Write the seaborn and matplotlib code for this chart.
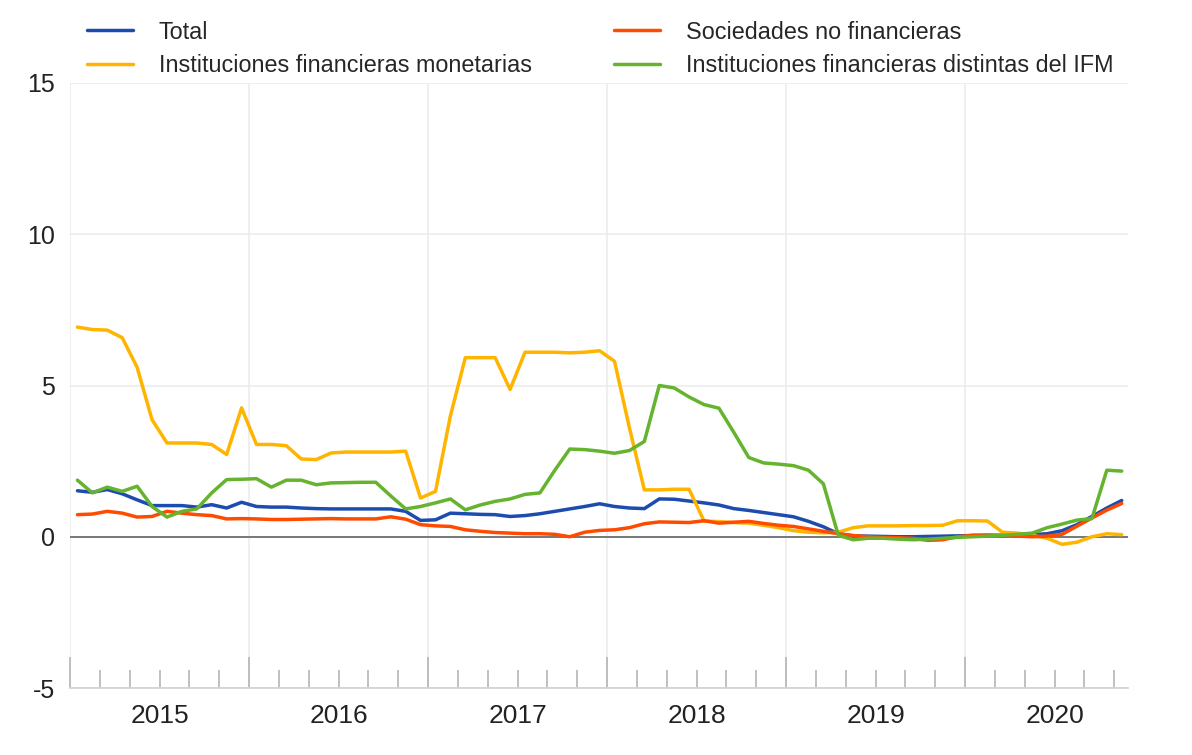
import numpy as np
import pandas as pd
import matplotlib
matplotlib.use("Agg")
import matplotlib.pyplot as plt
import seaborn as sns

# monthly data, Jan 2015 - Nov 2020 (percentages)
series_names = [
    "Total",
    "Instituciones financieras monetarias",
    "Sociedades no financieras",
    "Instituciones financieras distintas del IFM",
]
colors = ["#1d4caf", "#ffb400", "#ff4b00", "#65b32e"]

total = [
    1.52, 1.47, 1.56, 1.42, 1.22, 1.03, 1.03, 1.03, 0.98, 1.06, 0.95, 1.14,
    1.00, 0.98, 0.98, 0.95, 0.93, 0.92, 0.92, 0.92, 0.92, 0.92, 0.84, 0.54,
    0.56, 0.78, 0.76, 0.74, 0.73, 0.67, 0.70, 0.76, 0.84, 0.92, 1.00, 1.09,
    1.00, 0.95, 0.93, 1.25, 1.24, 1.18, 1.12, 1.05, 0.93, 0.87, 0.80, 0.73,
    0.66, 0.51, 0.33, 0.10, 0.03, 0.02, 0.01, 0.00, 0.00, 0.01, 0.02, 0.03,
    0.04, 0.05, 0.05, 0.06, 0.07, 0.10, 0.20, 0.40, 0.67, 0.95, 1.20,
]
ifm = [
    6.93, 6.85, 6.83, 6.58, 5.60, 3.87, 3.10, 3.10, 3.10, 3.05, 2.72, 4.26,
    3.05, 3.05, 3.01, 2.57, 2.55, 2.77, 2.80, 2.80, 2.80, 2.80, 2.83, 1.28,
    1.50, 4.00, 5.92, 5.92, 5.92, 4.87, 6.10, 6.10, 6.10, 6.08, 6.10, 6.15,
    5.80, 3.60, 1.55, 1.55, 1.57, 1.57, 0.52, 0.50, 0.47, 0.45, 0.38, 0.30,
    0.20, 0.15, 0.13, 0.15, 0.30, 0.36, 0.36, 0.36, 0.37, 0.37, 0.38, 0.53,
    0.53, 0.52, 0.15, 0.12, 0.05, -0.05, -0.25, -0.18, 0.00, 0.10, 0.07,
]
snf = [
    0.73, 0.75, 0.84, 0.78, 0.65, 0.67, 0.84, 0.78, 0.73, 0.70, 0.59, 0.60,
    0.59, 0.57, 0.57, 0.58, 0.59, 0.60, 0.59, 0.59, 0.59, 0.66, 0.58, 0.40,
    0.36, 0.34, 0.23, 0.18, 0.14, 0.12, 0.10, 0.10, 0.08, 0.00, 0.15, 0.21,
    0.23, 0.30, 0.43, 0.49, 0.48, 0.47, 0.53, 0.45, 0.48, 0.51, 0.44, 0.38,
    0.34, 0.26, 0.18, 0.10, 0.04, 0.00, -0.02, -0.03, -0.05, -0.12, -0.10, 0.00,
    0.05, 0.05, 0.03, 0.02, 0.00, 0.02, 0.08, 0.35, 0.62, 0.88, 1.10,
]
ifnm = [
    1.87, 1.45, 1.64, 1.50, 1.67, 1.00, 0.65, 0.84, 0.92, 1.45, 1.89, 1.90,
    1.92, 1.64, 1.87, 1.87, 1.72, 1.78, 1.79, 1.80, 1.80, 1.35, 0.92, 1.00,
    1.12, 1.25, 0.89, 1.05, 1.17, 1.25, 1.40, 1.45, 2.20, 2.90, 2.88, 2.83,
    2.76, 2.85, 3.15, 5.00, 4.92, 4.62, 4.37, 4.25, 3.45, 2.62, 2.44, 2.40,
    2.35, 2.20, 1.75, 0.05, -0.10, -0.05, -0.05, -0.08, -0.10, -0.08, -0.05, -0.02,
    0.00, 0.02, 0.05, 0.08, 0.12, 0.30, 0.42, 0.55, 0.60, 2.20, 2.17,
]
years = [2015, 2016, 2017, 2018, 2019, 2020]
y_ticks = [-5, 0, 5, 10, 15]

# month midpoints as fractional years
n = len(total)
fecha = 2015 + (np.arange(n) + 0.5) / 12

df = pd.DataFrame({"fecha": fecha,
                   series_names[0]: total, series_names[1]: ifm,
                   series_names[2]: snf, series_names[3]: ifnm})
long_df = df.melt(id_vars="fecha", var_name="serie", value_name="valor")

sns.set_style("white")
plt.rcParams["font.family"] = ["Liberation Sans", "DejaVu Sans"]
plt.rcParams["axes.unicode_minus"] = False

fig = plt.figure(figsize=(11.92, 7.55), dpi=100)
ax = fig.add_axes([70 / 1192, 1 - 688 / 755, 1058 / 1192, (688 - 83) / 755])

ax.axhline(0, color="#6e6e6e", lw=1.3, zorder=1.5)
sns.lineplot(data=long_df, x="fecha", y="valor", hue="serie",
             hue_order=series_names, palette=colors, linewidth=2.5, ax=ax,
             zorder=2)

ax.set_xlim(2015.0, 2020.91)
ax.set_ylim(-5, 15)
ax.set_yticks(y_ticks)
ax.set_yticklabels([str(v) for v in y_ticks])
ax.set_xlabel("")
ax.set_ylabel("")

# year boundaries as major ticks, every two months as minor ticks
ax.set_xticks(years)
ax.set_xticklabels([])
ax.set_xticks([y + m / 12 for y in years for m in (2, 4, 6, 8, 10)], minor=True)
ax.tick_params(axis="x", which="major", direction="in", length=22, width=1.2,
               color="#b5b5b5", bottom=True)
ax.tick_params(axis="x", which="minor", direction="in", length=13, width=1.2,
               color="#b5b5b5", bottom=True)
ax.tick_params(axis="y", length=0, pad=11, labelsize=18, labelcolor="#222222")

for y in years:
    ax.text(y + 0.5, -0.026, str(y), transform=ax.get_xaxis_transform(),
            ha="center", va="top", fontsize=19, color="#222222")

ax.grid(True, axis="both", which="major", color="#ebebeb", lw=1.1)
ax.set_axisbelow(True)
for side in ["left", "right", "top"]:
    ax.spines[side].set_visible(False)
ax.spines["bottom"].set_color("#d0d0d0")
ax.spines["bottom"].set_linewidth(1.2)

sns.move_legend(ax, "lower left", bbox_to_anchor=(0.011, 1.0), ncol=2,
                frameon=False, title=None, fontsize=16.8, handlelength=1.95,
                handletextpad=1.1, columnspacing=3.55, labelspacing=0.45,
                borderaxespad=-0.15)

fig.savefig("out.png", dpi=100)
